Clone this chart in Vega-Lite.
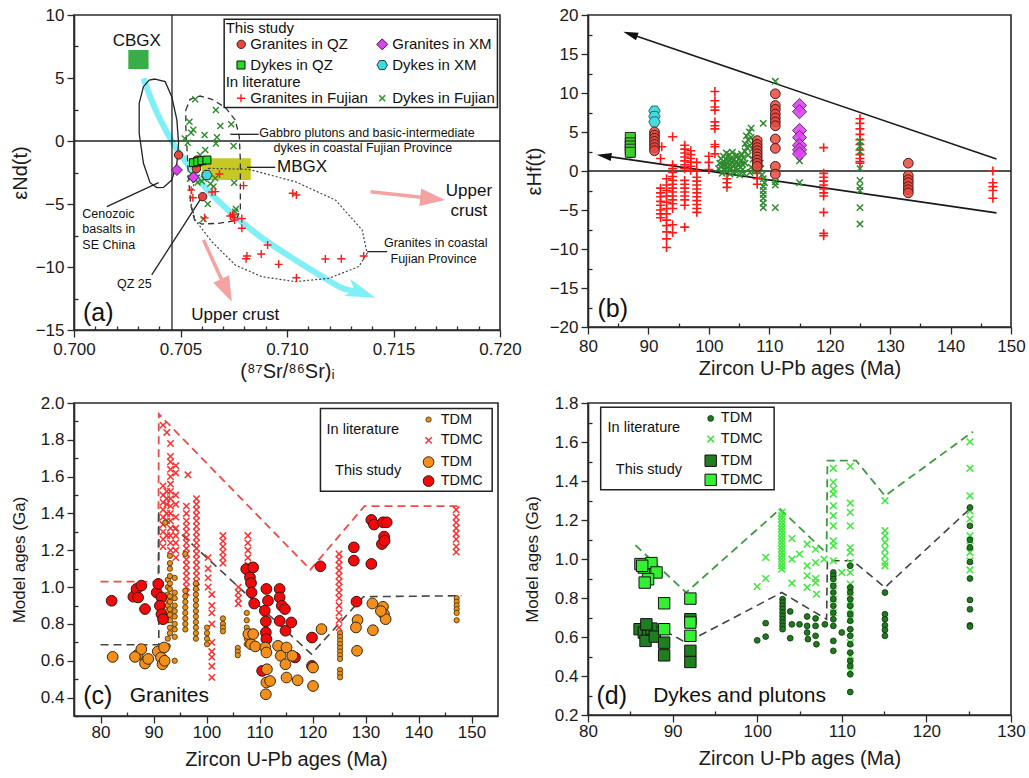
{
"$schema": "https://vega.github.io/schema/vega-lite/v6.json",
"background": "white",
"padding": {"left": 9, "top": 5, "right": 0, "bottom": 0},
"config": {
 "font": "Liberation Sans",
 "view": {"stroke": "#2a2a2a", "strokeWidth": 1.6},
 "axis": {"grid": false, "domainColor": "#2a2a2a", "domainWidth": 1.6, "tickColor": "#2a2a2a", "tickWidth": 1.3, "tickSize": 7, "labelFontSize": 17, "labelColor": "#1a1a1a", "labelPadding": 3, "titleFontSize": 20, "titleFontWeight": "normal", "titleColor": "#1a1a1a", "labelFont": "Liberation Sans", "titleFont": "Liberation Sans", "labelOverlap": false, "labelFlush": false},
 "text": {"font": "Liberation Sans", "color": "#111"}
},
"datasets": {
 "aLines": [
  {"st":"solid","g":"cen","o":0,"x":0.70381,"y":4.92},{"st":"solid","g":"cen","o":1,"x":0.70428,"y":4.71},{"st":"solid","g":"cen","o":2,"x":0.70459,"y":3.52},{"st":"solid","g":"cen","o":3,"x":0.70483,"y":1.67},{"st":"solid","g":"cen","o":4,"x":0.70491,"y":-0.19},{"st":"solid","g":"cen","o":5,"x":0.70483,"y":-1.77},{"st":"solid","g":"cen","o":6,"x":0.70459,"y":-3.10},{"st":"solid","g":"cen","o":7,"x":0.70420,"y":-3.68},{"st":"solid","g":"cen","o":8,"x":0.70389,"y":-3.70},{"st":"solid","g":"cen","o":9,"x":0.70357,"y":-3.31},{"st":"solid","g":"cen","o":10,"x":0.70326,"y":-1.77},{"st":"solid","g":"cen","o":11,"x":0.70306,"y":0.61},{"st":"solid","g":"cen","o":12,"x":0.70306,"y":2.99},{"st":"solid","g":"cen","o":13,"x":0.70326,"y":4.31},{"st":"solid","g":"cen","o":14,"x":0.70353,"y":4.84},{"st":"solid","g":"cen","o":15,"x":0.70381,"y":4.92},
  {"st":"solid","g":"vl","o":0,"x":0.7046,"y":-15},{"st":"solid","g":"vl","o":1,"x":0.7046,"y":10},
  {"st":"solid","g":"hl","o":0,"x":0.700,"y":0},{"st":"solid","g":"hl","o":1,"x":0.720,"y":0},
  {"st":"dash","g":"gab","o":0,"x":0.70525,"y":2.46},{"st":"dash","g":"gab","o":1,"x":0.70545,"y":3.31},{"st":"dash","g":"gab","o":2,"x":0.70592,"y":3.57},{"st":"dash","g":"gab","o":3,"x":0.70647,"y":3.31},{"st":"dash","g":"gab","o":4,"x":0.70710,"y":2.67},{"st":"dash","g":"gab","o":5,"x":0.70757,"y":1.67},{"st":"dash","g":"gab","o":6,"x":0.70776,"y":0.34},{"st":"dash","g":"gab","o":7,"x":0.70781,"y":-1.51},{"st":"dash","g":"gab","o":8,"x":0.70781,"y":-3.62},{"st":"dash","g":"gab","o":9,"x":0.70781,"y":-5.48},{"st":"dash","g":"gab","o":10,"x":0.70760,"y":-6.32},{"st":"dash","g":"gab","o":11,"x":0.70679,"y":-6.53},{"st":"dash","g":"gab","o":12,"x":0.70600,"y":-6.59},{"st":"dash","g":"gab","o":13,"x":0.70566,"y":-6.27},{"st":"dash","g":"gab","o":14,"x":0.70550,"y":-5.21},{"st":"dash","g":"gab","o":15,"x":0.70538,"y":-3.10},{"st":"dash","g":"gab","o":16,"x":0.70530,"y":-0.45},{"st":"dash","g":"gab","o":17,"x":0.70525,"y":1.14},{"st":"dash","g":"gab","o":18,"x":0.70525,"y":2.46},
  {"st":"dot","g":"gra","o":0,"x":0.70632,"y":-2.17},{"st":"dot","g":"gra","o":1,"x":0.70820,"y":-2.25},{"st":"dot","g":"gra","o":2,"x":0.71039,"y":-3.23},{"st":"dot","g":"gra","o":3,"x":0.71227,"y":-4.68},{"st":"dot","g":"gra","o":4,"x":0.71353,"y":-7.06},{"st":"dot","g":"gra","o":5,"x":0.71376,"y":-8.92},{"st":"dot","g":"gra","o":6,"x":0.71337,"y":-9.97},{"st":"dot","g":"gra","o":7,"x":0.71196,"y":-10.90},{"st":"dot","g":"gra","o":8,"x":0.71039,"y":-11.16},{"st":"dot","g":"gra","o":9,"x":0.70882,"y":-10.77},{"st":"dot","g":"gra","o":10,"x":0.70757,"y":-9.84},{"st":"dot","g":"gra","o":11,"x":0.70647,"y":-7.99},{"st":"dot","g":"gra","o":12,"x":0.70569,"y":-6.27},{"st":"dot","g":"gra","o":13,"x":0.70545,"y":-4.68},{"st":"dot","g":"gra","o":14,"x":0.70569,"y":-2.96},{"st":"dot","g":"gra","o":15,"x":0.70632,"y":-2.17},
  {"st":"cyan","g":"cy","o":0,"x":0.70326,"y":4.97},{"st":"cyan","g":"cy","o":1,"x":0.70380,"y":2.6},{"st":"cyan","g":"cy","o":2,"x":0.70420,"y":1.2},{"st":"cyan","g":"cy","o":3,"x":0.70475,"y":-0.45},{"st":"cyan","g":"cy","o":4,"x":0.70540,"y":-2.0},{"st":"cyan","g":"cy","o":5,"x":0.70600,"y":-3.36},{"st":"cyan","g":"cy","o":6,"x":0.70680,"y":-4.8},{"st":"cyan","g":"cy","o":7,"x":0.70757,"y":-6.0},{"st":"cyan","g":"cy","o":8,"x":0.70900,"y":-7.9},{"st":"cyan","g":"cy","o":9,"x":0.71039,"y":-9.44},{"st":"cyan","g":"cy","o":10,"x":0.71160,"y":-10.7},{"st":"cyan","g":"cy","o":11,"x":0.71250,"y":-11.6},{"st":"cyan","g":"cy","o":12,"x":0.71349,"y":-12.03},
  {"st":"pink","g":"p1","o":0,"x":0.70608,"y":-7.86},{"st":"pink","g":"p1","o":1,"x":0.70716,"y":-11.85},
  {"st":"pink","g":"p2","o":0,"x":0.71392,"y":-4.02},{"st":"pink","g":"p2","o":1,"x":0.71684,"y":-4.57},
  {"st":"lead","g":"l1","o":0,"x":0.70812,"y":-2.09},{"st":"lead","g":"l1","o":1,"x":0.70945,"y":-2.09},
  {"st":"lead","g":"l2","o":0,"x":0.70734,"y":0.53},{"st":"lead","g":"l2","o":1,"x":0.70867,"y":0.53},
  {"st":"lead","g":"l3","o":0,"x":0.71376,"y":-8.78},{"st":"lead","g":"l3","o":1,"x":0.71470,"y":-8.78},
  {"st":"lead","g":"l4","o":0,"x":0.70154,"y":-5.21},{"st":"lead","g":"l4","o":1,"x":0.70397,"y":-3.31},
  {"st":"lead","g":"l5","o":0,"x":0.70365,"y":-10.63},{"st":"lead","g":"l5","o":1,"x":0.70592,"y":-4.68}
 ],
 "aHeads": [
  {"k":"cyan","x":0.71349,"y":-12.03,"a":20},
  {"k":"pink","x":0.70716,"y":-11.85,"a":65},
  {"k":"pink","x":0.71684,"y":-4.57,"a":6}
 ],
 "aRects": [
  {"k":"M","x":0.7060,"x2":0.7083,"y":-1.37,"y2":-3.10},
  {"k":"C","x":0.70255,"x2":0.70350,"y":5.71,"y2":7.22},
  {"k":"box","x":0.70705,"x2":0.71988,"y":2.65,"y2":9.66}
 ],
 "aPts": [
  {"s":"GF","x":0.70683,"y":-2.62},{"s":"GF","x":0.70796,"y":-3.54},{"s":"GF","x":0.70663,"y":-4.02},{"s":"GF","x":0.70648,"y":-4.05},{"s":"GF","x":0.70550,"y":-3.9},{"s":"GF","x":0.70558,"y":-4.5},{"s":"GF","x":0.70613,"y":-6.1},{"s":"GF","x":0.70734,"y":-5.95},{"s":"GF","x":0.70754,"y":-6.27},{"s":"GF","x":0.70788,"y":-6.16},{"s":"GF","x":0.70788,"y":-6.93},{"s":"GF","x":0.71027,"y":-4.15},{"s":"GF","x":0.71044,"y":-4.29},{"s":"GF","x":0.70909,"y":-8.25},{"s":"GF","x":0.70879,"y":-8.97},{"s":"GF","x":0.70812,"y":-9.13},{"s":"GF","x":0.70808,"y":-9.35},{"s":"GF","x":0.70961,"y":-9.79},{"s":"GF","x":0.71044,"y":-10.85},{"s":"GF","x":0.71180,"y":-9.37},{"s":"GF","x":0.71255,"y":-9.34},{"s":"GF","x":0.71360,"y":-9.13},{"s":"GF","x":0.70751,"y":-6.06},{"s":"GF","x":0.70745,"y":-5.85},
  {"s":"DF","x":0.70569,"y":3.31},{"s":"DF","x":0.70666,"y":2.46},{"s":"DF","x":0.70542,"y":1.53},{"s":"DF","x":0.70687,"y":1.19},{"s":"DF","x":0.70738,"y":1.32},{"s":"DF","x":0.7055,"y":0.66},{"s":"DF","x":0.70613,"y":0.48},{"s":"DF","x":0.70671,"y":0.29},{"s":"DF","x":0.70666,"y":-0.19},{"s":"DF","x":0.70749,"y":-0.40},{"s":"DF","x":0.70534,"y":-0.13},{"s":"DF","x":0.70616,"y":-0.71},{"s":"DF","x":0.70592,"y":-1.11},{"s":"DF","x":0.70752,"y":-3.31},{"s":"DF","x":0.70757,"y":-5.61},{"s":"DF","x":0.70628,"y":-5.0},{"s":"DF","x":0.70608,"y":-6.19},{"s":"DF","x":0.70569,"y":-3.1},{"s":"DF","x":0.706,"y":-3.2},{"s":"DF","x":0.70655,"y":-3.62},{"s":"DF","x":0.70545,"y":-3.0},{"s":"DF","x":0.70663,"y":-2.96},{"s":"DF","x":0.7058,"y":-3.3},{"s":"DF","x":0.7061,"y":-3.0},{"s":"DF","x":0.7064,"y":-3.4},{"s":"DF","x":0.7055,"y":-2.6},{"s":"DF","x":0.7056,"y":0.9},{"s":"DF","x":0.7052,"y":0.2},{"s":"DF","x":0.7076,"y":-5.4},
  {"s":"GQ","x":0.70491,"y":-1.11},{"s":"GQ","x":0.70577,"y":-1.51},{"s":"GQ","x":0.70585,"y":-1.75},{"s":"GQ","x":0.70575,"y":-2.2},{"s":"GQ","x":0.70604,"y":-4.42},
  {"s":"DQ","x":0.70561,"y":-1.72},{"s":"DQ","x":0.70581,"y":-1.64},{"s":"DQ","x":0.70600,"y":-1.56},{"s":"DQ","x":0.70624,"y":-1.51},
  {"s":"GX","x":0.70483,"y":-2.30},{"s":"GX","x":0.70561,"y":-2.88},
  {"s":"DX","x":0.70624,"y":-2.70},
  {"s":"GQ","x":0.70785,"y":7.67},{"s":"GX","x":0.71447,"y":7.67},{"s":"DQ","x":0.70784,"y":6.03},{"s":"DX","x":0.71447,"y":6.03},{"s":"GF","x":0.70784,"y":3.39},{"s":"DF","x":0.71447,"y":3.39}
 ],
 "aTxt": [
  {"k":"bigc","x":0.70295,"y":7.96,"t":"CBGX"},
  {"k":"bigc","x":0.71854,"y":-3.97,"t":"Upper"},
  {"k":"bigc","x":0.71854,"y":-5.56,"t":"crust"},
  {"k":"bigc","x":0.70757,"y":-13.8,"t":"Upper crust"},
  {"k":"bigl","x":0.70953,"y":-2.09,"t":"MBGX"},
  {"k":"sm","x":0.7087,"y":0.66,"t":"Gabbro plutons and basic-intermediate"},
  {"k":"sm","x":0.70937,"y":-0.53,"t":"dykes in coastal Fujian Province"},
  {"k":"sm","x":0.71455,"y":-8.12,"t":"Granites in coastal"},
  {"k":"sm","x":0.71486,"y":-9.37,"t":"Fujian Province"},
  {"k":"sm","x":0.70039,"y":-5.79,"t":"Cenozoic"},
  {"k":"sm","x":0.70039,"y":-7.01,"t":"basalts in"},
  {"k":"sm","x":0.70039,"y":-8.25,"t":"SE China"},
  {"k":"sm","x":0.70202,"y":-11.35,"t":"QZ 25"},
  {"k":"leg","x":0.70712,"y":9.0,"t":"This study"},
  {"k":"leg","x":0.70828,"y":7.67,"t":"Granites in QZ"},
  {"k":"leg","x":0.71494,"y":7.67,"t":"Granites in XM"},
  {"k":"leg","x":0.70828,"y":6.03,"t":"Dykes in QZ"},
  {"k":"leg","x":0.71494,"y":6.03,"t":"Dykes in XM"},
  {"k":"leg","x":0.70712,"y":4.66,"t":"In literature"},
  {"k":"leg","x":0.70828,"y":3.39,"t":"Granites in Fujian"},
  {"k":"leg","x":0.71494,"y":3.39,"t":"Dykes in Fujian"},
  {"k":"pan","x":0.70114,"y":-13.68,"t":"(a)"}
 ],
 "bLines": [
  {"g":"h","o":0,"x":80,"y":0},{"g":"h","o":1,"x":150,"y":0},
  {"g":"u","o":0,"x":87.0,"y":17.55},{"g":"u","o":1,"x":147.6,"y":1.54},
  {"g":"l","o":0,"x":82.65,"y":1.94},{"g":"l","o":1,"x":147.6,"y":-5.37}
 ],
 "bHeads": [
  {"x":87.0,"y":17.55,"a":198.8},
  {"x":82.65,"y":1.94,"a":188.2}
 ],
 "bPts": [
  {"s":"GF","x":92,"y":-2.2},{"s":"GF","x":92,"y":-2.8},{"s":"GF","x":92,"y":-3.3},{"s":"GF","x":92,"y":-3.9},{"s":"GF","x":92,"y":-4.4},{"s":"GF","x":92,"y":-5.0},{"s":"GF","x":92,"y":-5.5},{"s":"GF","x":92,"y":-6.0},{"s":"GF","x":92,"y":1.6},{"s":"GF","x":92.2,"y":3.1},
  {"s":"GF","x":93,"y":-1.0},{"s":"GF","x":93,"y":-1.8},{"s":"GF","x":93,"y":-2.5},{"s":"GF","x":93,"y":-3.2},{"s":"GF","x":93,"y":-4.0},{"s":"GF","x":93,"y":-4.8},{"s":"GF","x":93,"y":-5.5},{"s":"GF","x":93,"y":-6.3},{"s":"GF","x":93,"y":-7.0},{"s":"GF","x":93,"y":-7.8},{"s":"GF","x":93,"y":-8.7},{"s":"GF","x":93,"y":-9.8},
  {"s":"GF","x":94,"y":4.4},{"s":"GF","x":94,"y":0.8},{"s":"GF","x":94,"y":0.3},{"s":"GF","x":94,"y":-0.2},{"s":"GF","x":94,"y":-0.7},{"s":"GF","x":94,"y":-1.2},{"s":"GF","x":94,"y":-1.7},{"s":"GF","x":94,"y":-2.2},{"s":"GF","x":94,"y":-2.7},{"s":"GF","x":94,"y":-3.2},{"s":"GF","x":94,"y":-3.7},{"s":"GF","x":94,"y":-4.2},{"s":"GF","x":94,"y":-4.8},{"s":"GF","x":94,"y":-6.9},{"s":"GF","x":94,"y":-7.9},
  {"s":"GF","x":96,"y":3.3},{"s":"GF","x":96,"y":2.8},{"s":"GF","x":96,"y":2.3},{"s":"GF","x":96,"y":1.8},{"s":"GF","x":96,"y":1.3},{"s":"GF","x":96,"y":0.8},{"s":"GF","x":96,"y":0.3},{"s":"GF","x":96,"y":-1.2},{"s":"GF","x":96,"y":-1.7},{"s":"GF","x":96,"y":-2.2},{"s":"GF","x":96,"y":-2.7},{"s":"GF","x":96,"y":-3.2},{"s":"GF","x":96,"y":-3.7},{"s":"GF","x":96,"y":-4.4},{"s":"GF","x":96,"y":-7.2},
  {"s":"GF","x":97,"y":2.6},{"s":"GF","x":97,"y":2.1},{"s":"GF","x":97,"y":1.6},{"s":"GF","x":97,"y":1.1},{"s":"GF","x":97,"y":0.6},{"s":"GF","x":97,"y":0.1},
  {"s":"GF","x":98,"y":1.1},{"s":"GF","x":98,"y":0.0},{"s":"GF","x":98,"y":-0.8},{"s":"GF","x":98,"y":-1.3},{"s":"GF","x":98,"y":-1.8},{"s":"GF","x":98,"y":-2.3},{"s":"GF","x":98,"y":-2.8},{"s":"GF","x":98,"y":-3.3},{"s":"GF","x":98,"y":-3.8},{"s":"GF","x":98,"y":-4.3},{"s":"GF","x":98,"y":-4.8},{"s":"GF","x":98,"y":-5.3},
  {"s":"GF","x":100,"y":1.9},{"s":"GF","x":100,"y":1.1},{"s":"GF","x":100,"y":0.2},
  {"s":"GF","x":101,"y":10.2},{"s":"GF","x":101,"y":9.0},{"s":"GF","x":101,"y":8.2},{"s":"GF","x":101,"y":7.8},{"s":"GF","x":101,"y":6.3},{"s":"GF","x":101,"y":5.8},{"s":"GF","x":101,"y":5.4},{"s":"GF","x":101,"y":3.4},{"s":"GF","x":101,"y":3.1},{"s":"GF","x":101,"y":2.2},
  {"s":"GF","x":103,"y":-1.0},{"s":"GF","x":103,"y":-1.5},{"s":"GF","x":103,"y":-2.1},
  {"s":"GF","x":108,"y":-0.3},{"s":"GF","x":108,"y":-1.0},{"s":"GF","x":108,"y":-1.7},
  {"s":"GF","x":119,"y":3.0},{"s":"GF","x":119,"y":-0.3},{"s":"GF","x":119,"y":-0.8},{"s":"GF","x":119,"y":-1.3},{"s":"GF","x":119,"y":-1.8},{"s":"GF","x":119,"y":-2.3},{"s":"GF","x":119,"y":-2.8},{"s":"GF","x":119,"y":-3.2},{"s":"GF","x":119,"y":-5.3},{"s":"GF","x":119,"y":-8.0},{"s":"GF","x":119,"y":-8.3},
  {"s":"GF","x":125,"y":6.7},{"s":"GF","x":125,"y":6.1},{"s":"GF","x":125,"y":5.4},{"s":"GF","x":125,"y":4.7},{"s":"GF","x":125,"y":4.0},{"s":"GF","x":125,"y":3.4},{"s":"GF","x":125,"y":2.7},{"s":"GF","x":125,"y":2.1},{"s":"GF","x":125,"y":1.6},{"s":"GF","x":125,"y":1.2},{"s":"GF","x":125,"y":1.0},
  {"s":"GF","x":147,"y":0.0},{"s":"GF","x":147,"y":-1.5},{"s":"GF","x":147,"y":-2.0},{"s":"GF","x":147,"y":-2.5},{"s":"GF","x":147,"y":-3.5},
  {"s":"DF","x":101.6,"y":0.3},{"s":"DF","x":101.8,"y":1.0},{"s":"DF","x":102.0,"y":0.5},{"s":"DF","x":102.0,"y":1.6},{"s":"DF","x":102.2,"y":-0.3},{"s":"DF","x":102.3,"y":0.8},{"s":"DF","x":102.4,"y":1.9},{"s":"DF","x":102.5,"y":1.2},{"s":"DF","x":102.6,"y":0.2},{"s":"DF","x":102.7,"y":0.7},{"s":"DF","x":102.8,"y":1.5},{"s":"DF","x":102.9,"y":2.3},{"s":"DF","x":103.0,"y":0.0},{"s":"DF","x":103.0,"y":1.0},{"s":"DF","x":103.1,"y":1.8},{"s":"DF","x":103.2,"y":0.5},{"s":"DF","x":103.3,"y":1.3},{"s":"DF","x":103.4,"y":2.1},{"s":"DF","x":103.5,"y":-0.4},{"s":"DF","x":103.5,"y":0.8},{"s":"DF","x":103.6,"y":1.6},{"s":"DF","x":103.7,"y":0.3},{"s":"DF","x":103.8,"y":1.1},{"s":"DF","x":103.9,"y":2.4},{"s":"DF","x":104.0,"y":0.6},{"s":"DF","x":104.1,"y":1.4},{"s":"DF","x":104.2,"y":-0.2},{"s":"DF","x":104.3,"y":0.9},{"s":"DF","x":104.4,"y":1.9},{"s":"DF","x":104.5,"y":0.4},{"s":"DF","x":104.6,"y":1.2},{"s":"DF","x":104.7,"y":2.0},{"s":"DF","x":104.8,"y":0.1},{"s":"DF","x":104.9,"y":0.8},{"s":"DF","x":105.0,"y":1.6},{"s":"DF","x":105.1,"y":-0.5},{"s":"DF","x":105.2,"y":0.5},{"s":"DF","x":105.3,"y":1.3},{"s":"DF","x":105.4,"y":2.2},{"s":"DF","x":105.5,"y":0.9},{"s":"DF","x":105.6,"y":0.2},{"s":"DF","x":105.7,"y":1.7},{"s":"DF","x":105.8,"y":-0.3},{"s":"DF","x":106.0,"y":1.0},
  {"s":"DF","x":106.0,"y":2.5},{"s":"DF","x":106.0,"y":3.5},{"s":"DF","x":106.2,"y":4.5},{"s":"DF","x":106.3,"y":3.0},{"s":"DF","x":106.5,"y":4.0},{"s":"DF","x":106.5,"y":2.0},{"s":"DF","x":106.7,"y":5.0},{"s":"DF","x":106.8,"y":3.3},{"s":"DF","x":107.0,"y":4.3},{"s":"DF","x":107.0,"y":5.5},{"s":"DF","x":107.2,"y":2.8},{"s":"DF","x":107.3,"y":1.5},{"s":"DF","x":107.0,"y":0.5},{"s":"DF","x":106.8,"y":-0.2},{"s":"DF","x":107.5,"y":3.8},{"s":"DF","x":107.5,"y":0.0},
  {"s":"DF","x":108.5,"y":1.0},{"s":"DF","x":108.8,"y":-0.5},{"s":"DF","x":109.0,"y":6.1},{"s":"DF","x":109.0,"y":-1.0},{"s":"DF","x":109.0,"y":-2.0},{"s":"DF","x":109.0,"y":-2.5},{"s":"DF","x":109.0,"y":-3.0},{"s":"DF","x":109.0,"y":-3.5},{"s":"DF","x":109.0,"y":-4.1},{"s":"DF","x":109.0,"y":-4.7},{"s":"DF","x":108.6,"y":0.3},{"s":"DF","x":109.2,"y":-1.5},
  {"s":"DF","x":111,"y":11.5},{"s":"DF","x":111,"y":-1.8},{"s":"DF","x":111,"y":-4.7},{"s":"DF","x":111,"y":-1.4},
  {"s":"DF","x":115,"y":1.3},{"s":"DF","x":115,"y":-1.5},{"s":"DF","x":115,"y":2.0},
  {"s":"DF","x":125,"y":3.8},{"s":"DF","x":125,"y":3.2},{"s":"DF","x":125,"y":2.5},{"s":"DF","x":125,"y":0.3},{"s":"DF","x":125,"y":-1.2},{"s":"DF","x":125,"y":-2.0},{"s":"DF","x":125,"y":-2.5},{"s":"DF","x":125,"y":-4.7},{"s":"DF","x":125,"y":-6.8},
  {"s":"GQ","x":87,"y":2.3},
  {"s":"GQ","x":91,"y":5.0},{"s":"GQ","x":91,"y":4.6},{"s":"GQ","x":91,"y":4.2},{"s":"GQ","x":91,"y":3.8},{"s":"GQ","x":91,"y":3.4},{"s":"GQ","x":91,"y":3.0},{"s":"GQ","x":91,"y":2.6},
  {"s":"GQ","x":108,"y":3.9},{"s":"GQ","x":108,"y":3.4},{"s":"GQ","x":108,"y":3.0},{"s":"GQ","x":108,"y":2.6},{"s":"GQ","x":108,"y":2.2},{"s":"GQ","x":108,"y":1.8},{"s":"GQ","x":108,"y":1.4},{"s":"GQ","x":108,"y":1.0},{"s":"GQ","x":108,"y":0.6},
  {"s":"GQ","x":111,"y":9.9},{"s":"GQ","x":111,"y":8.4},{"s":"GQ","x":111,"y":7.9},{"s":"GQ","x":111,"y":7.3},{"s":"GQ","x":111,"y":6.8},{"s":"GQ","x":111,"y":6.3},{"s":"GQ","x":111,"y":5.8},{"s":"GQ","x":111,"y":4.1},{"s":"GQ","x":111,"y":2.9},{"s":"GQ","x":111,"y":0.6},{"s":"GQ","x":111,"y":-0.4},
  {"s":"GQ","x":133,"y":1.0},{"s":"GQ","x":133,"y":-0.6},{"s":"GQ","x":133,"y":-1.1},{"s":"GQ","x":133,"y":-1.5},{"s":"GQ","x":133,"y":-2.0},{"s":"GQ","x":133,"y":-2.4},{"s":"GQ","x":133,"y":-2.8},
  {"s":"DQ","x":87,"y":4.3},{"s":"DQ","x":87,"y":3.6},{"s":"DQ","x":87,"y":3.2},{"s":"DQ","x":87,"y":2.8},{"s":"DQ","x":87,"y":2.4},
  {"s":"DX","x":91,"y":7.7},{"s":"DX","x":91,"y":7.0},{"s":"DX","x":91,"y":6.3},
  {"s":"GX","x":115,"y":8.4},{"s":"GX","x":115,"y":7.6},{"s":"GX","x":115,"y":5.2},{"s":"GX","x":115,"y":4.3},{"s":"GX","x":115,"y":3.3},{"s":"GX","x":115,"y":2.7},{"s":"GX","x":115,"y":2.2}
 ],
 "bTxt": [{"x":84.1,"y":-17.65,"t":"(b)"}],
 "cLines": [
  {"g":"r","o":0,"x":80,"y":1.03},{"g":"r","o":1,"x":90.9,"y":1.03},{"g":"r","o":2,"x":91.0,"y":1.94},{"g":"r","o":3,"x":119.6,"y":1.095},{"g":"r","o":4,"x":129.8,"y":1.44},{"g":"r","o":5,"x":148.1,"y":1.44},
  {"g":"k","o":0,"x":80,"y":0.687},{"g":"k","o":1,"x":91,"y":0.687},{"g":"k","o":2,"x":91,"y":1.40},{"g":"k","o":3,"x":119.8,"y":0.636},{"g":"k","o":4,"x":129.6,"y":0.948},{"g":"k","o":5,"x":148.1,"y":0.953}
 ],
 "cRects": [{"x":121.5,"x2":153.9,"y":1.521,"y2":1.970}],
 "cPts": [
  {"s":"LX","x":91.8,"y":1.88},{"s":"LX","x":91.8,"y":1.55},{"s":"LX","x":91.8,"y":1.5},{"s":"LX","x":91.8,"y":1.46},{"s":"LX","x":91.8,"y":1.42},{"s":"LX","x":91.8,"y":1.38},{"s":"LX","x":91.8,"y":1.34},{"s":"LX","x":91.8,"y":1.3},{"s":"LX","x":91.8,"y":1.26},{"s":"LX","x":91.8,"y":1.22},
  {"s":"LX","x":92.5,"y":1.84},{"s":"LX","x":92.5,"y":1.52},{"s":"LX","x":92.5,"y":1.48},{"s":"LX","x":92.5,"y":1.45},{"s":"LX","x":92.5,"y":1.4},{"s":"LX","x":92.5,"y":1.36},{"s":"LX","x":92.5,"y":1.28},
  {"s":"LX","x":93.2,"y":1.78},{"s":"LX","x":93.2,"y":1.71},{"s":"LX","x":93.2,"y":1.68},{"s":"LX","x":93.2,"y":1.64},{"s":"LX","x":93.2,"y":1.6},{"s":"LX","x":93.2,"y":1.56},{"s":"LX","x":93.2,"y":1.52},{"s":"LX","x":93.2,"y":1.48},{"s":"LX","x":93.2,"y":1.44},{"s":"LX","x":93.2,"y":1.4},{"s":"LX","x":93.2,"y":1.36},{"s":"LX","x":93.2,"y":1.32},{"s":"LX","x":93.2,"y":1.28},{"s":"LX","x":93.2,"y":1.24},{"s":"LX","x":93.2,"y":1.2},
  {"s":"LX","x":94.2,"y":1.66},{"s":"LX","x":94.2,"y":1.62},{"s":"LX","x":94.2,"y":1.5},{"s":"LX","x":94.2,"y":1.45},{"s":"LX","x":94.2,"y":1.38},{"s":"LX","x":94.2,"y":1.32},{"s":"LX","x":94.2,"y":1.28},{"s":"LX","x":94.2,"y":1.24},{"s":"LX","x":94.2,"y":1.2},{"s":"LX","x":94.2,"y":1.16},
  {"s":"LX","x":96.5,"y":1.61},{"s":"LX","x":96.2,"y":1.44},{"s":"LX","x":96.2,"y":1.4},{"s":"LX","x":96.2,"y":1.36},{"s":"LX","x":96.2,"y":1.33},{"s":"LX","x":96.2,"y":1.3},{"s":"LX","x":96.2,"y":1.27},{"s":"LX","x":96.2,"y":1.24},{"s":"LX","x":96.2,"y":1.21},{"s":"LX","x":96.2,"y":1.18},{"s":"LX","x":96.2,"y":1.15},{"s":"LX","x":96.2,"y":1.12},{"s":"LX","x":96.2,"y":1.09},{"s":"LX","x":96.2,"y":1.06},{"s":"LX","x":96.2,"y":1.03},{"s":"LX","x":96.2,"y":1.0},{"s":"LX","x":96.2,"y":0.97},
  {"s":"LX","x":98.1,"y":1.48},{"s":"LX","x":98.1,"y":1.45},{"s":"LX","x":98.1,"y":1.42},{"s":"LX","x":98.1,"y":1.39},{"s":"LX","x":98.1,"y":1.36},{"s":"LX","x":98.1,"y":1.33},{"s":"LX","x":98.1,"y":1.3},{"s":"LX","x":98.1,"y":1.27},{"s":"LX","x":98.1,"y":1.24},{"s":"LX","x":98.1,"y":1.21},{"s":"LX","x":98.1,"y":1.18},{"s":"LX","x":98.1,"y":1.15},{"s":"LX","x":98.1,"y":1.12},{"s":"LX","x":98.1,"y":1.09},{"s":"LX","x":98.1,"y":1.06},{"s":"LX","x":98.1,"y":1.03},{"s":"LX","x":98.1,"y":1.0},
  {"s":"LX","x":100.3,"y":1.16},{"s":"LX","x":100.3,"y":1.1},{"s":"LX","x":100.3,"y":1.05},{"s":"LX","x":100.3,"y":1.0},
  {"s":"LX","x":101,"y":0.96},{"s":"LX","x":101,"y":0.9},{"s":"LX","x":101,"y":0.86},{"s":"LX","x":101,"y":0.8},{"s":"LX","x":101,"y":0.7},{"s":"LX","x":101,"y":0.65},{"s":"LX","x":101,"y":0.62},{"s":"LX","x":101,"y":0.57},{"s":"LX","x":101,"y":0.51},
  {"s":"LX","x":103.1,"y":1.28},{"s":"LX","x":103.1,"y":1.25},{"s":"LX","x":103.1,"y":1.22},{"s":"LX","x":103.1,"y":1.19},{"s":"LX","x":103.1,"y":1.16},{"s":"LX","x":103.1,"y":1.13},
  {"s":"LX","x":106,"y":1.0},{"s":"LX","x":106,"y":0.97},{"s":"LX","x":106,"y":0.94},{"s":"LX","x":106,"y":0.91},
  {"s":"LX","x":107.8,"y":1.28},{"s":"LX","x":107.8,"y":1.24},{"s":"LX","x":107.8,"y":1.2},{"s":"LX","x":107.8,"y":1.16},{"s":"LX","x":107.8,"y":1.12},{"s":"LX","x":107.8,"y":1.08},
  {"s":"LX","x":125,"y":1.18},{"s":"LX","x":125,"y":1.15},{"s":"LX","x":125,"y":1.12},{"s":"LX","x":125,"y":1.09},{"s":"LX","x":125,"y":1.06},{"s":"LX","x":125,"y":1.03},{"s":"LX","x":125,"y":1.0},{"s":"LX","x":125,"y":0.97},{"s":"LX","x":125,"y":0.94},{"s":"LX","x":125,"y":0.9},{"s":"LX","x":125,"y":0.86},{"s":"LX","x":125,"y":0.82},{"s":"LX","x":125,"y":0.78},
  {"s":"LX","x":147.1,"y":1.42},{"s":"LX","x":147.1,"y":1.38},{"s":"LX","x":147.1,"y":1.35},{"s":"LX","x":147.1,"y":1.32},{"s":"LX","x":147.1,"y":1.29},{"s":"LX","x":147.1,"y":1.26},{"s":"LX","x":147.1,"y":1.22},{"s":"LX","x":147.1,"y":1.19},
  {"s":"LT","x":92.2,"y":1.35},{"s":"LT","x":92.7,"y":1.04},{"s":"LT","x":92.7,"y":1.0},{"s":"LT","x":92.7,"y":0.96},{"s":"LT","x":92.7,"y":0.93},{"s":"LT","x":92.7,"y":0.9},{"s":"LT","x":92.7,"y":0.87},{"s":"LT","x":92.7,"y":0.84},{"s":"LT","x":92.7,"y":0.82},{"s":"LT","x":92.7,"y":0.72},{"s":"LT","x":92.7,"y":0.68},
  {"s":"LT","x":93.1,"y":1.17},{"s":"LT","x":93.1,"y":1.13},{"s":"LT","x":93.1,"y":1.1},{"s":"LT","x":93.1,"y":1.06},{"s":"LT","x":93.1,"y":1.02},{"s":"LT","x":93.1,"y":0.99},{"s":"LT","x":93.1,"y":0.95},{"s":"LT","x":93.1,"y":0.92},{"s":"LT","x":93.1,"y":0.88},{"s":"LT","x":93.1,"y":0.85},{"s":"LT","x":93.1,"y":0.82},{"s":"LT","x":93.1,"y":0.78},{"s":"LT","x":93.1,"y":0.75},
  {"s":"LT","x":94,"y":1.05},{"s":"LT","x":94,"y":0.97},{"s":"LT","x":94,"y":0.94},{"s":"LT","x":94,"y":0.9},{"s":"LT","x":94,"y":0.87},{"s":"LT","x":94,"y":0.84},{"s":"LT","x":94,"y":0.8},{"s":"LT","x":94,"y":0.77},{"s":"LT","x":94,"y":0.73},{"s":"LT","x":94,"y":0.6},
  {"s":"LT","x":96,"y":1.18},{"s":"LT","x":96,"y":0.98},{"s":"LT","x":96,"y":0.95},{"s":"LT","x":96,"y":0.92},{"s":"LT","x":96,"y":0.89},{"s":"LT","x":96,"y":0.86},{"s":"LT","x":96,"y":0.83},{"s":"LT","x":96,"y":0.8},{"s":"LT","x":96,"y":0.77},
  {"s":"LT","x":98,"y":1.02},{"s":"LT","x":98,"y":0.99},{"s":"LT","x":98,"y":0.96},{"s":"LT","x":98,"y":0.93},{"s":"LT","x":98,"y":0.9},{"s":"LT","x":98,"y":0.87},{"s":"LT","x":98,"y":0.84},{"s":"LT","x":98,"y":0.81},{"s":"LT","x":98,"y":0.78},{"s":"LT","x":98,"y":0.75},{"s":"LT","x":98,"y":0.72},
  {"s":"LT","x":100.1,"y":0.78},{"s":"LT","x":100.1,"y":0.75},{"s":"LT","x":100.1,"y":0.72},{"s":"LT","x":100.1,"y":0.69},
  {"s":"LT","x":103.1,"y":0.83},{"s":"LT","x":103.1,"y":0.8},{"s":"LT","x":103.1,"y":0.78},{"s":"LT","x":103.1,"y":0.76},
  {"s":"LT","x":105.9,"y":0.67},{"s":"LT","x":105.9,"y":0.65},{"s":"LT","x":105.9,"y":0.63},
  {"s":"LT","x":107.6,"y":0.86},{"s":"LT","x":107.6,"y":0.82},{"s":"LT","x":107.6,"y":0.78},{"s":"LT","x":107.6,"y":0.75},{"s":"LT","x":107.6,"y":0.72},{"s":"LT","x":107.6,"y":0.69},
  {"s":"LT","x":125.2,"y":0.75},{"s":"LT","x":125.2,"y":0.73},{"s":"LT","x":125.2,"y":0.71},{"s":"LT","x":125.2,"y":0.69},{"s":"LT","x":125.2,"y":0.67},{"s":"LT","x":125.2,"y":0.65},{"s":"LT","x":125.2,"y":0.63},{"s":"LT","x":125.2,"y":0.61},{"s":"LT","x":125.2,"y":0.55},{"s":"LT","x":125.2,"y":0.53},{"s":"LT","x":125.2,"y":0.51},
  {"s":"LT","x":147.2,"y":0.94},{"s":"LT","x":147.2,"y":0.92},{"s":"LT","x":147.2,"y":0.9},{"s":"LT","x":147.2,"y":0.88},{"s":"LT","x":147.2,"y":0.86},{"s":"LT","x":147.2,"y":0.82},
  {"s":"TX","x":82.1,"y":0.926},{"s":"TX","x":86.2,"y":0.948},{"s":"TX","x":86.8,"y":0.99},{"s":"TX","x":87.7,"y":1.008},{"s":"TX","x":87.1,"y":0.944},{"s":"TX","x":88.4,"y":0.881},
  {"s":"TX","x":90.6,"y":0.971},{"s":"TX","x":91.5,"y":0.944},{"s":"TX","x":91.2,"y":0.899},{"s":"TX","x":91.5,"y":0.853},{"s":"TX","x":91.8,"y":0.826},{"s":"TX","x":90.9,"y":1.017},
  {"s":"TX","x":107.5,"y":1.098},{"s":"TX","x":108.8,"y":1.107},{"s":"TX","x":108.2,"y":1.053},{"s":"TX","x":108.4,"y":1.022},{"s":"TX","x":108.5,"y":0.971},{"s":"TX","x":109.0,"y":0.911},
  {"s":"TX","x":111.3,"y":0.99},{"s":"TX","x":111.6,"y":0.926},{"s":"TX","x":111.0,"y":0.872},{"s":"TX","x":111.2,"y":0.814},{"s":"TX","x":111.2,"y":0.754},{"s":"TX","x":111.3,"y":0.718},{"s":"TX","x":110.5,"y":0.545},
  {"s":"TX","x":113.8,"y":0.99},{"s":"TX","x":113.8,"y":0.944},{"s":"TX","x":114.2,"y":0.899},{"s":"TX","x":113.8,"y":0.817},{"s":"TX","x":114.8,"y":0.881},{"s":"TX","x":114.9,"y":0.763},{"s":"TX","x":116.0,"y":0.808},{"s":"TX","x":116.7,"y":0.618},
  {"s":"TX","x":119.9,"y":0.726},{"s":"TX","x":119.9,"y":0.572},{"s":"TX","x":121.5,"y":1.113},
  {"s":"TX","x":127.8,"y":1.216},{"s":"TX","x":127.8,"y":1.144},{"s":"TX","x":128.3,"y":0.921},
  {"s":"TX","x":131.1,"y":1.126},{"s":"TX","x":131.1,"y":1.365},{"s":"TX","x":131.6,"y":1.34},{"s":"TX","x":133.3,"y":1.352},{"s":"TX","x":133.5,"y":1.274},{"s":"TX","x":133.1,"y":1.234},{"s":"TX","x":133.6,"y":1.252},{"s":"TX","x":134.0,"y":1.352},
  {"s":"TO","x":82.3,"y":0.621},{"s":"TO","x":87.0,"y":0.632},{"s":"TO","x":87.7,"y":0.663},{"s":"TO","x":86.5,"y":0.621},{"s":"TO","x":88.4,"y":0.585},{"s":"TO","x":89.0,"y":0.61},
  {"s":"TO","x":90.8,"y":0.65},{"s":"TO","x":91.4,"y":0.618},{"s":"TO","x":91.7,"y":0.581},{"s":"TO","x":92.1,"y":0.6},{"s":"TO","x":92.0,"y":0.672},
  {"s":"TO","x":107.9,"y":0.745},{"s":"TO","x":108.4,"y":0.69},{"s":"TO","x":108.8,"y":0.745},{"s":"TO","x":109.2,"y":0.678},{"s":"TO","x":111.1,"y":0.672},{"s":"TO","x":111.3,"y":0.645},{"s":"TO","x":111.4,"y":0.554},{"s":"TO","x":111.3,"y":0.482},{"s":"TO","x":111.2,"y":0.418},{"s":"TO","x":112.0,"y":0.49},
  {"s":"TO","x":113.5,"y":0.681},{"s":"TO","x":114.0,"y":0.627},{"s":"TO","x":115.1,"y":0.672},{"s":"TO","x":114.9,"y":0.581},{"s":"TO","x":115.1,"y":0.509},{"s":"TO","x":116.2,"y":0.627},{"s":"TO","x":117.2,"y":0.494},
  {"s":"TO","x":120.1,"y":0.563},{"s":"TO","x":120.1,"y":0.463},{"s":"TO","x":121.7,"y":0.772},
  {"s":"TO","x":128.5,"y":0.821},{"s":"TO","x":128.2,"y":0.781},{"s":"TO","x":128.4,"y":0.654},
  {"s":"TO","x":131.3,"y":0.911},{"s":"TO","x":131.4,"y":0.766},{"s":"TO","x":133.3,"y":0.893},{"s":"TO","x":133.5,"y":0.853},{"s":"TO","x":133.8,"y":0.826},{"s":"TO","x":132.9,"y":0.87},
  {"s":"LT","x":141.9,"y":1.91},{"s":"LX","x":141.9,"y":1.797},{"s":"TO","x":141.9,"y":1.679},{"s":"TX","x":141.9,"y":1.576}
 ],
 "cTxt": [
  {"k":"pan","x":79.5,"y":0.41,"t":"(c)"},
  {"k":"lab","x":85.5,"y":0.41,"t":"Granites"},
  {"k":"legc","x":129.5,"y":1.855,"t":"In literature"},
  {"k":"legc","x":130.5,"y":1.63,"t":"This study"},
  {"k":"leg","x":144.2,"y":1.91,"t":"TDM"},
  {"k":"leg","x":144.2,"y":1.797,"t":"TDMC"},
  {"k":"leg","x":144.2,"y":1.679,"t":"TDM"},
  {"k":"leg","x":144.2,"y":1.576,"t":"TDMC"}
 ],
 "dLines": [
  {"g":"g","o":0,"x":85.6,"y":1.071},{"g":"g","o":1,"x":91.6,"y":0.828},{"g":"g","o":2,"x":102.7,"y":1.256},{"g":"g","o":3,"x":108.2,"y":1.03},{"g":"g","o":4,"x":108.3,"y":1.504},{"g":"g","o":5,"x":111.7,"y":1.504},{"g":"g","o":6,"x":115.1,"y":1.324},{"g":"g","o":7,"x":125.5,"y":1.653},
  {"g":"k","o":0,"x":86.4,"y":0.695},{"g":"k","o":1,"x":91.6,"y":0.571},{"g":"k","o":2,"x":102.9,"y":0.828},{"g":"k","o":3,"x":108.2,"y":0.691},{"g":"k","o":4,"x":108.3,"y":0.991},{"g":"k","o":5,"x":111.3,"y":0.991},{"g":"k","o":6,"x":115.1,"y":0.854},{"g":"k","o":7,"x":125.3,"y":1.264}
 ],
 "dRects": [{"x":81.5,"x2":102.0,"y":1.355,"y2":1.778}],
 "dPts": [
  {"s":"LX","x":100.0,"y":0.859},{"s":"LX","x":101.0,"y":1.008},{"s":"LX","x":101.0,"y":0.9},
  {"s":"LX","x":102.9,"y":1.239},{"s":"LX","x":102.9,"y":1.222},{"s":"LX","x":102.9,"y":1.205},{"s":"LX","x":102.9,"y":1.188},{"s":"LX","x":102.9,"y":1.171},{"s":"LX","x":102.9,"y":1.154},{"s":"LX","x":102.9,"y":1.137},{"s":"LX","x":102.9,"y":1.12},{"s":"LX","x":102.9,"y":1.102},{"s":"LX","x":102.9,"y":1.085},{"s":"LX","x":102.9,"y":1.068},{"s":"LX","x":102.9,"y":1.051},{"s":"LX","x":102.9,"y":1.034},{"s":"LX","x":102.9,"y":1.017},{"s":"LX","x":102.9,"y":1.0},{"s":"LX","x":102.9,"y":0.983},{"s":"LX","x":102.9,"y":0.965},{"s":"LX","x":102.9,"y":0.948},
  {"s":"LX","x":104.1,"y":1.105},{"s":"LX","x":104.1,"y":0.999},{"s":"LX","x":104.1,"y":0.876},{"s":"LX","x":105.0,"y":1.025},
  {"s":"LX","x":105.9,"y":1.076},{"s":"LX","x":105.9,"y":0.965},{"s":"LX","x":105.9,"y":0.914},{"s":"LX","x":105.9,"y":0.854},
  {"s":"LX","x":106.9,"y":1.05},{"s":"LX","x":106.9,"y":0.982},{"s":"LX","x":106.9,"y":0.9},{"s":"LX","x":106.9,"y":0.879},{"s":"LX","x":107.0,"y":0.82},{"s":"LX","x":107.9,"y":0.999},
  {"s":"LX","x":109,"y":1.465},{"s":"LX","x":109,"y":1.393},{"s":"LX","x":109,"y":1.359},{"s":"LX","x":109,"y":1.333},{"s":"LX","x":109,"y":1.273},{"s":"LX","x":109,"y":1.222},{"s":"LX","x":109,"y":1.17},{"s":"LX","x":109,"y":1.093},{"s":"LX","x":109,"y":1.068},{"s":"LX","x":109,"y":0.991},{"s":"LX","x":109,"y":0.862},{"s":"LX","x":109,"y":0.794},{"s":"LX","x":109,"y":0.725},
  {"s":"LX","x":110.0,"y":0.931},
  {"s":"LX","x":111,"y":1.475},{"s":"LX","x":111,"y":1.287},{"s":"LX","x":111,"y":1.239},{"s":"LX","x":111,"y":1.17},{"s":"LX","x":111,"y":1.059},{"s":"LX","x":111,"y":1.033},{"s":"LX","x":111,"y":0.982},{"s":"LX","x":111,"y":0.931},{"s":"LX","x":111,"y":0.871},{"s":"LX","x":111,"y":0.828},{"s":"LX","x":111,"y":0.785},{"s":"LX","x":111,"y":0.742},{"s":"LX","x":111,"y":0.691},{"s":"LX","x":111,"y":0.623},{"s":"LX","x":111,"y":0.571},{"s":"LX","x":111,"y":0.503},{"s":"LX","x":111,"y":0.426},
  {"s":"LX","x":115.1,"y":1.299},{"s":"LX","x":115.1,"y":1.146},{"s":"LX","x":115.1,"y":1.119},{"s":"LX","x":115.1,"y":1.085},{"s":"LX","x":115.1,"y":1.05},{"s":"LX","x":115.1,"y":1.016},{"s":"LX","x":115.1,"y":0.982},{"s":"LX","x":115.1,"y":0.965},
  {"s":"LX","x":125.15,"y":1.601},{"s":"LX","x":125.15,"y":1.465},{"s":"LX","x":125.15,"y":1.324},{"s":"LX","x":125.15,"y":1.247},{"s":"LX","x":125.15,"y":1.205},{"s":"LX","x":125.15,"y":1.119},{"s":"LX","x":125.15,"y":1.068},{"s":"LX","x":125.15,"y":1.033},{"s":"LX","x":125.15,"y":0.991},{"s":"LX","x":125.15,"y":0.944},
  {"s":"LO","x":100.0,"y":0.583},{"s":"LO","x":101.0,"y":0.671},{"s":"LO","x":101.0,"y":0.602},
  {"s":"LO","x":103,"y":0.794},{"s":"LO","x":103,"y":0.777},{"s":"LO","x":103,"y":0.76},{"s":"LO","x":103,"y":0.743},{"s":"LO","x":103,"y":0.725},{"s":"LO","x":103,"y":0.708},{"s":"LO","x":103,"y":0.691},{"s":"LO","x":103,"y":0.674},{"s":"LO","x":103,"y":0.657},{"s":"LO","x":103,"y":0.64},
  {"s":"LO","x":103.9,"y":0.731},{"s":"LO","x":104.1,"y":0.665},{"s":"LO","x":103.9,"y":0.594},{"s":"LO","x":105.0,"y":0.665},
  {"s":"LO","x":105.9,"y":0.705},{"s":"LO","x":105.9,"y":0.657},{"s":"LO","x":105.9,"y":0.623},{"s":"LO","x":106.0,"y":0.589},
  {"s":"LO","x":106.9,"y":0.695},{"s":"LO","x":106.9,"y":0.657},{"s":"LO","x":106.9,"y":0.606},{"s":"LO","x":107.0,"y":0.563},{"s":"LO","x":108.0,"y":0.665},
  {"s":"LO","x":109,"y":0.931},{"s":"LO","x":109,"y":0.914},{"s":"LO","x":109,"y":0.897},{"s":"LO","x":109,"y":0.862},{"s":"LO","x":109,"y":0.828},{"s":"LO","x":109,"y":0.794},{"s":"LO","x":109,"y":0.76},{"s":"LO","x":109,"y":0.725},{"s":"LO","x":109,"y":0.691},{"s":"LO","x":109,"y":0.657},{"s":"LO","x":109,"y":0.58},{"s":"LO","x":109,"y":0.529},
  {"s":"LO","x":110.0,"y":0.623},
  {"s":"LO","x":111,"y":0.965},{"s":"LO","x":111,"y":0.854},{"s":"LO","x":111,"y":0.828},{"s":"LO","x":111,"y":0.794},{"s":"LO","x":111,"y":0.76},{"s":"LO","x":111,"y":0.717},{"s":"LO","x":111,"y":0.683},{"s":"LO","x":111,"y":0.64},{"s":"LO","x":111,"y":0.606},{"s":"LO","x":111,"y":0.563},{"s":"LO","x":111,"y":0.52},{"s":"LO","x":111,"y":0.477},{"s":"LO","x":111,"y":0.452},{"s":"LO","x":111,"y":0.409},{"s":"LO","x":111,"y":0.318},
  {"s":"LO","x":115.1,"y":0.828},{"s":"LO","x":115.1,"y":0.717},{"s":"LO","x":115.1,"y":0.691},{"s":"LO","x":115.1,"y":0.66},{"s":"LO","x":115.1,"y":0.636},{"s":"LO","x":115.1,"y":0.606},
  {"s":"LO","x":125.15,"y":1.264},{"s":"LO","x":125.15,"y":1.17},{"s":"LO","x":125.15,"y":1.098},{"s":"LO","x":125.15,"y":1.059},{"s":"LO","x":125.15,"y":0.985},{"s":"LO","x":125.15,"y":0.9},{"s":"LO","x":125.15,"y":0.79},{"s":"LO","x":125.15,"y":0.742},{"s":"LO","x":125.15,"y":0.66},{"s":"LO","x":125.15,"y":0.654},
  {"s":"TO","x":86.1,"y":0.64},{"s":"TO","x":86.6,"y":0.623},{"s":"TO","x":87.1,"y":0.606},{"s":"TO","x":87.5,"y":0.643},{"s":"TO","x":86.9,"y":0.665},{"s":"TO","x":86.8,"y":0.58},{"s":"TO","x":87.9,"y":0.602},
  {"s":"TO","x":89.0,"y":0.571},{"s":"TO","x":89.0,"y":0.506},{"s":"TO","x":92.1,"y":0.691},{"s":"TO","x":92.1,"y":0.529},{"s":"TO","x":92.1,"y":0.472},
  {"s":"TX","x":86.2,"y":0.974},{"s":"TX","x":86.6,"y":0.956},{"s":"TX","x":87.5,"y":0.979},{"s":"TX","x":88.1,"y":0.931},{"s":"TX","x":87.1,"y":0.896},{"s":"TX","x":86.7,"y":0.879},{"s":"TX","x":86.4,"y":0.965},
  {"s":"TX","x":89.0,"y":0.773},{"s":"TX","x":89.0,"y":0.64},{"s":"TX","x":92.1,"y":0.797},{"s":"TX","x":92.1,"y":0.674},{"s":"TX","x":92.1,"y":0.606},
  {"s":"LO","x":94.5,"y":1.721},{"s":"LX","x":94.5,"y":1.615},{"s":"TO","x":94.5,"y":1.504},{"s":"TX","x":94.5,"y":1.406}
 ],
 "dTxt": [
  {"k":"pan","x":82.8,"y":0.297,"t":"(d)"},
  {"k":"lab","x":87.7,"y":0.297,"t":"Dykes and plutons"},
  {"k":"legc","x":86.6,"y":1.67,"t":"In literature"},
  {"k":"legc","x":87.2,"y":1.458,"t":"This study"},
  {"k":"leg","x":95.7,"y":1.721,"t":"TDM"},
  {"k":"leg","x":95.7,"y":1.615,"t":"TDMC"},
  {"k":"leg","x":95.7,"y":1.504,"t":"TDM"},
  {"k":"leg","x":95.7,"y":1.406,"t":"TDMC"}
 ]
},
"columns": 2,
"spacing": {"row": 73, "column": 88},
"bounds": "flush",
"concat": [
  {
   "width": 426, "height": 315,
   "encoding": {
    "x": {"field": "x", "type": "quantitative", "scale": {"domain": [0.7, 0.72], "nice": false, "zero": false}, "axis": {"values": [0.7, 0.701, 0.702, 0.703, 0.704, 0.705, 0.706, 0.707, 0.708, 0.709, 0.71, 0.711, 0.712, 0.713, 0.714, 0.715, 0.716, 0.717, 0.718, 0.719, 0.72], "format": ".3f", "labelExpr": "round(datum.value*1000)%5===0 ? datum.label : ''", "tickSize": {"condition": {"test": "round(datum.value*1000)%5!==0", "value": -4}, "value": 7}, "title": "(⁸⁷Sr/⁸⁶Sr)ᵢ", "labelPadding": 4, "titlePadding": 4}},
    "y": {"field": "y", "type": "quantitative", "scale": {"domain": [-15, 10], "nice": false, "zero": false}, "axis": {"values": [-15, -12.5, -10, -7.5, -5, -2.5, 0, 2.5, 5, 7.5, 10], "labelExpr": "datum.value%5===0 ? datum.label : ''", "tickSize": {"condition": {"test": "datum.value%5!==0", "value": -4}, "value": 7}, "title": "εNd(t)", "titlePadding": 5}}
   },
   "layer": [
    {"data": {"name": "aRects"}, "transform": [{"filter": "datum.k==='M'"}], "mark": {"type": "rect", "color": "#c6c925"}, "encoding": {"x2": {"field": "x2"}, "y2": {"field": "y2"}}},
    {"data": {"name": "aRects"}, "transform": [{"filter": "datum.k==='C'"}], "mark": {"type": "rect", "color": "#38ad48"}, "encoding": {"x2": {"field": "x2"}, "y2": {"field": "y2"}}},
    {"data": {"name": "aLines"}, "transform": [{"filter": "datum.st==='cyan'"}], "mark": {"type": "line", "color": "#7ff0f6", "strokeWidth": 6, "interpolate": "monotone"}, "encoding": {"detail": {"field": "g"}, "order": {"field": "o"}}},
    {"data": {"name": "aLines"}, "transform": [{"filter": "datum.st==='pink'"}], "mark": {"type": "line", "color": "#f4a2a2", "strokeWidth": 3.5}, "encoding": {"detail": {"field": "g"}, "order": {"field": "o"}}},
    {"data": {"name": "aHeads"}, "transform": [{"filter": "datum.k==='cyan'"}], "mark": {"type": "point", "shape": "M1,0L-1,-0.6L-0.5,0L-1,0.6Z", "filled": true, "color": "#7ff0f6", "opacity": 1, "size": 900}, "encoding": {"angle": {"field": "a", "type": "quantitative", "scale": null}}},
    {"data": {"name": "aHeads"}, "transform": [{"filter": "datum.k==='pink'"}], "mark": {"type": "point", "shape": "M1,0L-1,-0.7L-1,0.7Z", "filled": true, "color": "#f4a2a2", "opacity": 1, "size": 625}, "encoding": {"angle": {"field": "a", "type": "quantitative", "scale": null}}},
    {"data": {"name": "aLines"}, "transform": [{"filter": "datum.st==='solid'"}], "mark": {"type": "line", "color": "#222", "strokeWidth": 1.3}, "encoding": {"detail": {"field": "g"}, "order": {"field": "o"}}},
    {"data": {"name": "aLines"}, "transform": [{"filter": "datum.st==='dash'"}], "mark": {"type": "line", "color": "#333", "strokeWidth": 1.3, "strokeDash": [6, 4]}, "encoding": {"detail": {"field": "g"}, "order": {"field": "o"}}},
    {"data": {"name": "aLines"}, "transform": [{"filter": "datum.st==='dot'"}], "mark": {"type": "line", "color": "#444", "strokeWidth": 1.2, "strokeDash": [2, 2]}, "encoding": {"detail": {"field": "g"}, "order": {"field": "o"}}},
    {"data": {"name": "aLines"}, "transform": [{"filter": "datum.st==='lead'"}], "mark": {"type": "line", "color": "#222", "strokeWidth": 1.3}, "encoding": {"detail": {"field": "g"}, "order": {"field": "o"}}},
    {"data": {"name": "aPts"}, "transform": [{"filter": "datum.s==='DF'"}], "mark": {"type": "point", "shape": "M-1,-1L1,1M-1,1L1,-1", "filled": false, "color": "#2e8b2e", "strokeWidth": 1.4, "size": 36, "opacity": 1}},
    {"data": {"name": "aPts"}, "transform": [{"filter": "datum.s==='GF'"}], "mark": {"type": "point", "shape": "M-1,0L1,0M0,-1L0,1", "filled": false, "color": "#ff1a1a", "strokeWidth": 1.4, "size": 64, "opacity": 1}},
    {"data": {"name": "aPts"}, "transform": [{"filter": "datum.s==='GQ'"}], "mark": {"type": "point", "shape": "circle", "filled": true, "fill": "#e8453c", "stroke": "#3a2020", "strokeWidth": 1, "size": 70, "opacity": 1}},
    {"data": {"name": "aPts"}, "transform": [{"filter": "datum.s==='DQ'"}], "mark": {"type": "point", "shape": "square", "filled": true, "fill": "#22dd22", "stroke": "#111", "strokeWidth": 1, "size": 64, "opacity": 1}},
    {"data": {"name": "aPts"}, "transform": [{"filter": "datum.s==='GX'"}], "mark": {"type": "point", "shape": "diamond", "filled": true, "fill": "#d845e8", "stroke": "#3a2040", "strokeWidth": 1, "size": 121, "opacity": 1}},
    {"data": {"name": "aPts"}, "transform": [{"filter": "datum.s==='DX'"}], "mark": {"type": "point", "shape": "M-1,0L-0.5,-0.866L0.5,-0.866L1,0L0.5,0.866L-0.5,0.866Z", "filled": true, "fill": "#3fd8dc", "stroke": "#224444", "strokeWidth": 1, "size": 110, "opacity": 1}},
    {"data": {"name": "aRects"}, "transform": [{"filter": "datum.k==='box'"}], "mark": {"type": "rect", "filled": false, "stroke": "#222", "strokeWidth": 1.5}, "encoding": {"x2": {"field": "x2"}, "y2": {"field": "y2"}}},
    {"data": {"name": "aTxt"}, "transform": [{"filter": "datum.k==='bigc'"}], "mark": {"type": "text", "fontSize": 17, "align": "center", "baseline": "middle"}, "encoding": {"text": {"field": "t"}}},
    {"data": {"name": "aTxt"}, "transform": [{"filter": "datum.k==='bigl'"}], "mark": {"type": "text", "fontSize": 17, "align": "left", "baseline": "middle"}, "encoding": {"text": {"field": "t"}}},
    {"data": {"name": "aTxt"}, "transform": [{"filter": "datum.k==='sm'"}], "mark": {"type": "text", "fontSize": 12.5, "align": "left", "baseline": "middle"}, "encoding": {"text": {"field": "t"}}},
    {"data": {"name": "aTxt"}, "transform": [{"filter": "datum.k==='leg'"}], "mark": {"type": "text", "fontSize": 15, "align": "left", "baseline": "middle"}, "encoding": {"text": {"field": "t"}}},
    {"data": {"name": "aTxt"}, "transform": [{"filter": "datum.k==='pan'"}], "mark": {"type": "text", "fontSize": 25, "align": "center", "baseline": "middle"}, "encoding": {"text": {"field": "t"}}}
   ]
  },
  {
   "width": 423, "height": 312,
   "encoding": {
    "x": {"field": "x", "type": "quantitative", "scale": {"domain": [80, 150], "nice": false, "zero": false}, "axis": {"values": [80, 85, 90, 95, 100, 105, 110, 115, 120, 125, 130, 135, 140, 145, 150], "labelExpr": "datum.value%10===0 ? datum.label : ''", "tickSize": {"condition": {"test": "datum.value%10!==0", "value": -4}, "value": 7}, "title": "Zircon U-Pb ages (Ma)", "labelPadding": 4, "titlePadding": 4}},
    "y": {"field": "y", "type": "quantitative", "scale": {"domain": [-20, 20], "nice": false, "zero": false}, "axis": {"values": [-20, -17.5, -15, -12.5, -10, -7.5, -5, -2.5, 0, 2.5, 5, 7.5, 10, 12.5, 15, 17.5, 20], "labelExpr": "datum.value%5===0 ? datum.label : ''", "tickSize": {"condition": {"test": "datum.value%5!==0", "value": -4}, "value": 7}, "title": "εHf(t)", "titlePadding": 5}}
   },
   "layer": [
    {"data": {"name": "bLines"}, "mark": {"type": "line", "color": "#1a1a1a", "strokeWidth": 1.6}, "encoding": {"detail": {"field": "g"}, "order": {"field": "o"}}},
    {"data": {"name": "bHeads"}, "mark": {"type": "point", "shape": "M1,0L-1,-0.55L-1,0.55Z", "filled": true, "color": "#111", "opacity": 1, "size": 220}, "encoding": {"angle": {"field": "a", "type": "quantitative", "scale": null}}},
    {"data": {"name": "bPts"}, "transform": [{"filter": "datum.s==='GF'"}], "mark": {"type": "point", "shape": "M-1,0L1,0M0,-1L0,1", "filled": false, "color": "#ff1a1a", "strokeWidth": 1.6, "size": 80, "opacity": 1}},
    {"data": {"name": "bPts"}, "transform": [{"filter": "datum.s==='DF'"}], "mark": {"type": "point", "shape": "M-1,-1L1,1M-1,1L1,-1", "filled": false, "color": "#2e8b2e", "strokeWidth": 1.5, "size": 40, "opacity": 1}},
    {"data": {"name": "bPts"}, "transform": [{"filter": "datum.s==='GQ'"}], "mark": {"type": "point", "shape": "circle", "filled": true, "fill": "#e8483c", "fillOpacity": 0.85, "stroke": "#4a1c1c", "strokeWidth": 1, "size": 95}},
    {"data": {"name": "bPts"}, "transform": [{"filter": "datum.s==='DQ'"}], "mark": {"type": "point", "shape": "square", "filled": true, "fill": "#3ccf2a", "stroke": "#222", "strokeWidth": 1, "size": 100, "opacity": 1}},
    {"data": {"name": "bPts"}, "transform": [{"filter": "datum.s==='DX'"}], "mark": {"type": "point", "shape": "M-1,0L-0.5,-0.866L0.5,-0.866L1,0L0.5,0.866L-0.5,0.866Z", "filled": true, "fill": "#44dcdc", "stroke": "#336666", "strokeWidth": 1, "size": 130, "opacity": 1}},
    {"data": {"name": "bPts"}, "transform": [{"filter": "datum.s==='GX'"}], "mark": {"type": "point", "shape": "diamond", "filled": true, "fill": "#dd44ee", "fillOpacity": 0.9, "stroke": "#553366", "strokeWidth": 1, "size": 200}},
    {"data": {"name": "bTxt"}, "mark": {"type": "text", "fontSize": 25, "align": "center", "baseline": "middle"}, "encoding": {"text": {"field": "t"}}}
   ]
  },
  {
   "width": 424, "height": 313,
   "encoding": {
    "x": {"field": "x", "type": "quantitative", "scale": {"domain": [75, 155], "nice": false, "zero": false}, "axis": {"values": [80, 85, 90, 95, 100, 105, 110, 115, 120, 125, 130, 135, 140, 145, 150], "labelExpr": "datum.value%10===0 ? datum.label : ''", "tickSize": {"condition": {"test": "datum.value%10!==0", "value": -4}, "value": 7}, "title": "Zircon U-Pb ages (Ma)", "labelPadding": 1, "titlePadding": 9}},
    "y": {"field": "y", "type": "quantitative", "scale": {"domain": [0.3, 2.0], "nice": false, "zero": false}, "axis": {"values": [0.3, 0.4, 0.5, 0.6, 0.7, 0.8, 0.9, 1.0, 1.1, 1.2, 1.3, 1.4, 1.5, 1.6, 1.7, 1.8, 1.9, 2.0], "format": ".1f", "labelExpr": "round(datum.value*10)%2===0 ? datum.label : ''", "tickSize": {"condition": {"test": "round(datum.value*10)%2!==0", "value": -4}, "value": 7}, "title": "Model ages (Ga)", "titleFontSize": 17, "titlePadding": 12}}
   },
   "layer": [
    {"data": {"name": "cLines"}, "transform": [{"filter": "datum.g==='r'"}], "mark": {"type": "line", "color": "#f24a4a", "strokeWidth": 1.8, "strokeDash": [8, 5]}, "encoding": {"order": {"field": "o"}}},
    {"data": {"name": "cLines"}, "transform": [{"filter": "datum.g==='k'"}], "mark": {"type": "line", "color": "#444", "strokeWidth": 1.6, "strokeDash": [8, 5]}, "encoding": {"order": {"field": "o"}}},
    {"data": {"name": "cPts"}, "transform": [{"filter": "datum.s==='LX'"}], "mark": {"type": "point", "shape": "M-1,-1L1,1M-1,1L1,-1", "filled": false, "color": "#ff3030", "strokeWidth": 1.5, "size": 40, "opacity": 1}},
    {"data": {"name": "cPts"}, "transform": [{"filter": "datum.s==='LT'"}], "mark": {"type": "point", "shape": "circle", "filled": true, "fill": "#e8901a", "stroke": "#4a2c08", "strokeWidth": 0.8, "size": 28, "opacity": 1}},
    {"data": {"name": "cPts"}, "transform": [{"filter": "datum.s==='TX'"}], "mark": {"type": "point", "shape": "circle", "filled": true, "fill": "#f00a0a", "stroke": "#3a1010", "strokeWidth": 1, "size": 115, "opacity": 1}},
    {"data": {"name": "cPts"}, "transform": [{"filter": "datum.s==='TO'"}], "mark": {"type": "point", "shape": "circle", "filled": true, "fill": "#f3901c", "stroke": "#3a2810", "strokeWidth": 1, "size": 115, "opacity": 1}},
    {"data": {"name": "cRects"}, "mark": {"type": "rect", "filled": false, "stroke": "#222", "strokeWidth": 1.5}, "encoding": {"x2": {"field": "x2"}, "y2": {"field": "y2"}}},
    {"data": {"name": "cTxt"}, "transform": [{"filter": "datum.k==='pan'"}], "mark": {"type": "text", "fontSize": 25, "align": "center", "baseline": "middle"}, "encoding": {"text": {"field": "t"}}},
    {"data": {"name": "cTxt"}, "transform": [{"filter": "datum.k==='lab'"}], "mark": {"type": "text", "fontSize": 21, "align": "left", "baseline": "middle"}, "encoding": {"text": {"field": "t"}}},
    {"data": {"name": "cTxt"}, "transform": [{"filter": "datum.k==='legc'"}], "mark": {"type": "text", "fontSize": 14.5, "align": "center", "baseline": "middle"}, "encoding": {"text": {"field": "t"}}},
    {"data": {"name": "cTxt"}, "transform": [{"filter": "datum.k==='leg'"}], "mark": {"type": "text", "fontSize": 14.5, "align": "left", "baseline": "middle"}, "encoding": {"text": {"field": "t"}}}
   ]
  },
  {
   "width": 423, "height": 312,
   "encoding": {
    "x": {"field": "x", "type": "quantitative", "scale": {"domain": [80, 130], "nice": false, "zero": false}, "axis": {"values": [80, 85, 90, 95, 100, 105, 110, 115, 120, 125, 130], "labelExpr": "datum.value%10===0 ? datum.label : ''", "tickSize": {"condition": {"test": "datum.value%10!==0", "value": -4}, "value": 7}, "title": "Zircon U-Pb ages (Ma)", "labelPadding": 1, "titlePadding": 9}},
    "y": {"field": "y", "type": "quantitative", "scale": {"domain": [0.2, 1.8], "nice": false, "zero": false}, "axis": {"values": [0.2, 0.3, 0.4, 0.5, 0.6, 0.7, 0.8, 0.9, 1.0, 1.1, 1.2, 1.3, 1.4, 1.5, 1.6, 1.7, 1.8], "format": ".1f", "labelExpr": "round(datum.value*10)%2===0 ? datum.label : ''", "tickSize": {"condition": {"test": "round(datum.value*10)%2!==0", "value": -4}, "value": 7}, "title": "Model ages (Ga)", "titleFontSize": 17, "titlePadding": 13}}
   },
   "layer": [
    {"data": {"name": "dLines"}, "transform": [{"filter": "datum.g==='g'"}], "mark": {"type": "line", "color": "#3d9a3d", "strokeWidth": 1.8, "strokeDash": [8, 5]}, "encoding": {"order": {"field": "o"}}},
    {"data": {"name": "dLines"}, "transform": [{"filter": "datum.g==='k'"}], "mark": {"type": "line", "color": "#444", "strokeWidth": 1.6, "strokeDash": [8, 5]}, "encoding": {"order": {"field": "o"}}},
    {"data": {"name": "dPts"}, "transform": [{"filter": "datum.s==='LX'"}], "mark": {"type": "point", "shape": "M-1,-1L1,1M-1,1L1,-1", "filled": false, "color": "#3ee83e", "strokeWidth": 1.5, "size": 44, "opacity": 1}},
    {"data": {"name": "dPts"}, "transform": [{"filter": "datum.s==='LO'"}], "mark": {"type": "point", "shape": "circle", "filled": true, "fill": "#1f7a1f", "stroke": "#0b330b", "strokeWidth": 0.8, "size": 34, "opacity": 1}},
    {"data": {"name": "dPts"}, "transform": [{"filter": "datum.s==='TO'"}], "mark": {"type": "point", "shape": "square", "filled": true, "fill": "#1f7f1f", "stroke": "#111", "strokeWidth": 1, "size": 130, "opacity": 1}},
    {"data": {"name": "dPts"}, "transform": [{"filter": "datum.s==='TX'"}], "mark": {"type": "point", "shape": "square", "filled": true, "fill": "#33f033", "stroke": "#111", "strokeWidth": 1, "size": 130, "opacity": 1}},
    {"data": {"name": "dRects"}, "mark": {"type": "rect", "filled": false, "stroke": "#222", "strokeWidth": 1.5}, "encoding": {"x2": {"field": "x2"}, "y2": {"field": "y2"}}},
    {"data": {"name": "dTxt"}, "transform": [{"filter": "datum.k==='pan'"}], "mark": {"type": "text", "fontSize": 25, "align": "center", "baseline": "middle"}, "encoding": {"text": {"field": "t"}}},
    {"data": {"name": "dTxt"}, "transform": [{"filter": "datum.k==='lab'"}], "mark": {"type": "text", "fontSize": 21, "align": "left", "baseline": "middle"}, "encoding": {"text": {"field": "t"}}},
    {"data": {"name": "dTxt"}, "transform": [{"filter": "datum.k==='legc'"}], "mark": {"type": "text", "fontSize": 14.5, "align": "center", "baseline": "middle"}, "encoding": {"text": {"field": "t"}}},
    {"data": {"name": "dTxt"}, "transform": [{"filter": "datum.k==='leg'"}], "mark": {"type": "text", "fontSize": 14.5, "align": "left", "baseline": "middle"}, "encoding": {"text": {"field": "t"}}}
   ]
  }
]
}
